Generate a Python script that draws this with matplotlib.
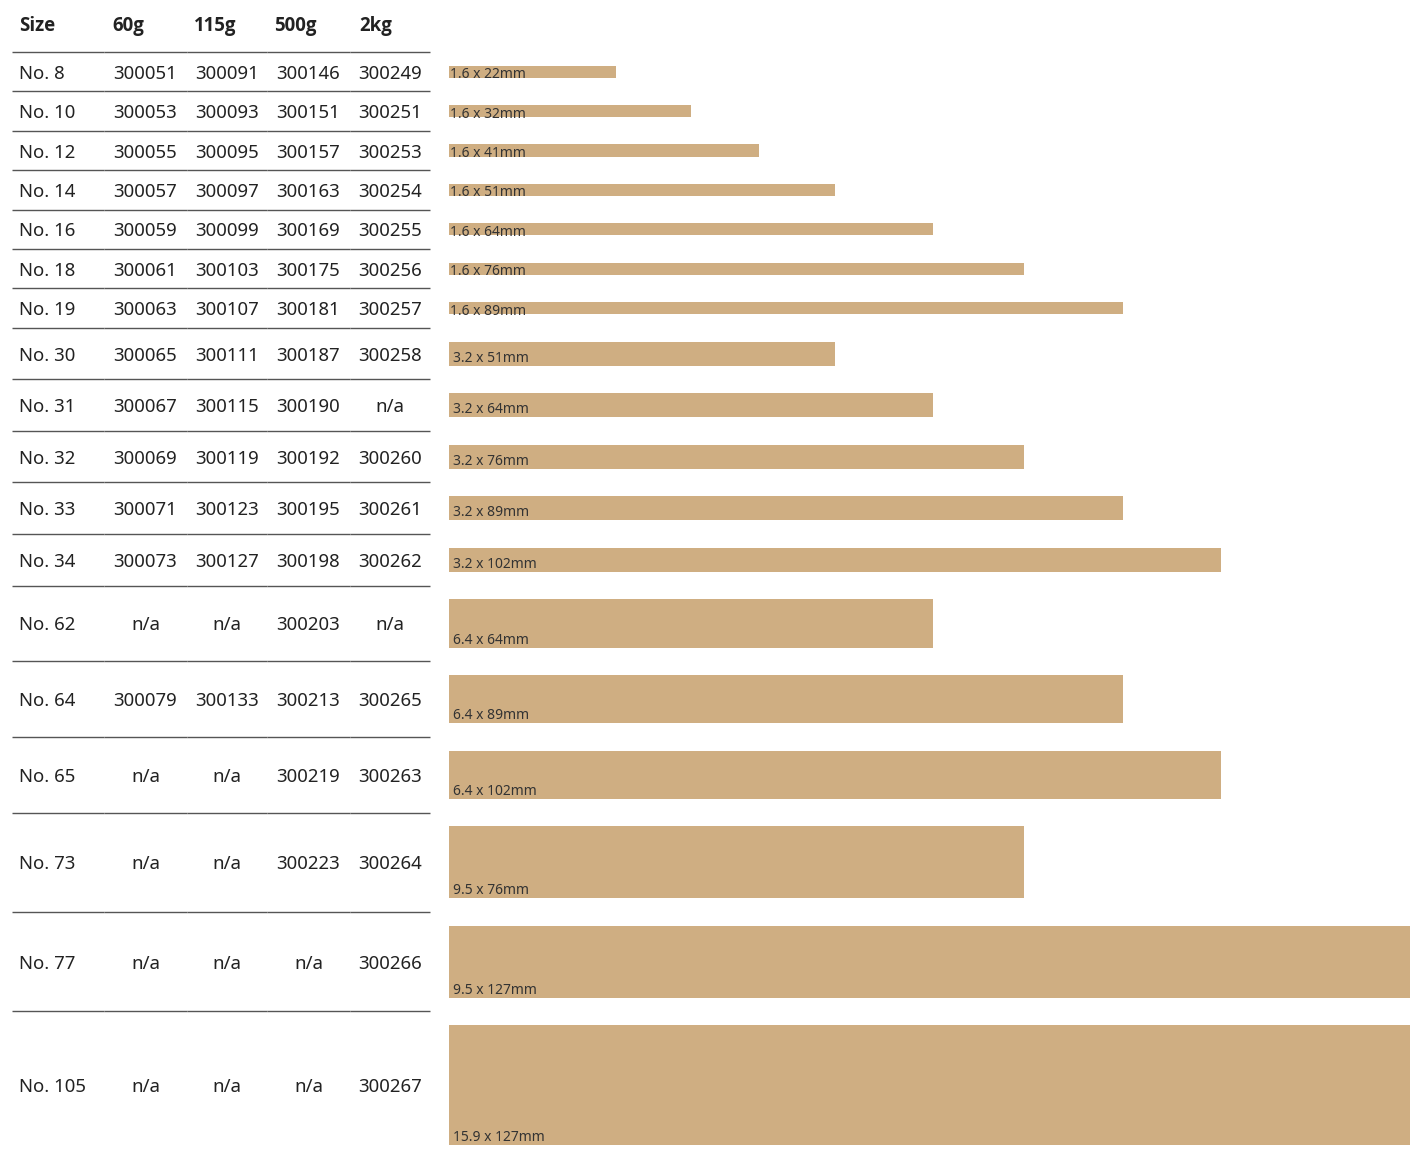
import matplotlib
matplotlib.use("Agg")
import matplotlib.pyplot as plt

# ---- data ----
sizes = ["No. 8", "No. 10", "No. 12", "No. 14", "No. 16", "No. 18", "No. 19",
         "No. 30", "No. 31", "No. 32", "No. 33", "No. 34",
         "No. 62", "No. 64", "No. 65", "No. 73", "No. 77", "No. 105"]
col_60g = ["300051", "300053", "300055", "300057", "300059", "300061", "300063",
           "300065", "300067", "300069", "300071", "300073",
           "n/a", "300079", "n/a", "n/a", "n/a", "n/a"]
col_115g = ["300091", "300093", "300095", "300097", "300099", "300103", "300107",
            "300111", "300115", "300119", "300123", "300127",
            "n/a", "300133", "n/a", "n/a", "n/a", "n/a"]
col_500g = ["300146", "300151", "300157", "300163", "300169", "300175", "300181",
            "300187", "300190", "300192", "300195", "300198",
            "300203", "300213", "300219", "300223", "n/a", "n/a"]
col_2kg = ["300249", "300251", "300253", "300254", "300255", "300256", "300257",
           "300258", "n/a", "300260", "300261", "300262",
           "n/a", "300265", "300263", "300264", "300266", "300267"]
thickness_mm = [1.6, 1.6, 1.6, 1.6, 1.6, 1.6, 1.6,
                3.2, 3.2, 3.2, 3.2, 3.2,
                6.4, 6.4, 6.4, 9.5, 9.5, 15.9]
length_mm = [22, 32, 41, 51, 64, 76, 89,
             51, 64, 76, 89, 102,
             64, 89, 102, 76, 127, 127]
headers = ["Size", "60g", "115g", "500g", "2kg"]

# ---- layout ----
W, H = 1414, 1158
PX = 7.57            # pixels per mm
X0 = 449             # pixel position of bar origin
BAR_COLOR = "#CFAE82"
TXT = "#222222"
LINE = "#555555"
FONT = "Noto Sans"

fig = plt.figure(figsize=(W / 100, H / 100), dpi=100)
ax = fig.add_axes([0, 0, 1, 1])
ax.set_xlim(-X0 / PX, (W - X0) / PX)
ax.set_ylim(H / PX, 0)
ax.axis("off")

def X(px):
    return (px - X0) / PX

header_h = 52 / PX
pad = 27.3 / PX
dy = 2 / PX

# column boundaries (px) and header left positions
col_bounds = [12, 104, 187, 267, 350, 430]
header_x = [19, 112, 194, 274, 359]

for h, hx in zip(headers, header_x):
    ax.text(X(hx), header_h / 2 - 0.3 + dy, h, fontsize=13.4, fontweight="bold",
            family=["Open Sans", "DejaVu Sans"], color=TXT, ha="left", va="center")

def hline(y):
    for a, b in zip(col_bounds[:-1], col_bounds[1:]):
        ax.plot([X(a + 0.3), X(b - 0.3)], [y, y], color=LINE, lw=1.0,
                solid_capstyle="butt")

hline(header_h)

tops = []
t = header_h
for th in thickness_mm:
    tops.append(t)
    t += th + pad
centers = [tp + (th + pad) / 2 for tp, th in zip(tops, thickness_mm)]

ax.barh(centers, length_mm, height=thickness_mm, left=0, color=BAR_COLOR,
        edgecolor="none")

cols = [col_60g, col_115g, col_500g, col_2kg]
for i, (tp, th, c) in enumerate(zip(tops, thickness_mm, centers)):
    ax.text(X(19), c + dy, sizes[i], fontsize=13.4, family=FONT, color=TXT,
            ha="left", va="center")
    for j, col in enumerate(cols):
        cx = (col_bounds[j + 1] + col_bounds[j + 2]) / 2
        ax.text(X(cx), c + dy, col[i], fontsize=13.4, family=FONT, color=TXT,
                ha="center", va="center")
    if i < len(sizes) - 1:
        hline(tp + th + pad)
    # bar label
    bottom = c + th / 2
    if th < 2:
        lx, ly = 1 / PX, bottom + 0.5 / PX
    else:
        lx, ly = 3.8 / PX, bottom - 4 / PX
    ax.text(lx, ly, f"{th} x {length_mm[i]}mm", fontsize=10, family=FONT,
            color="#333333", ha="left", va="baseline")

fig.savefig("out.png", dpi=100)
